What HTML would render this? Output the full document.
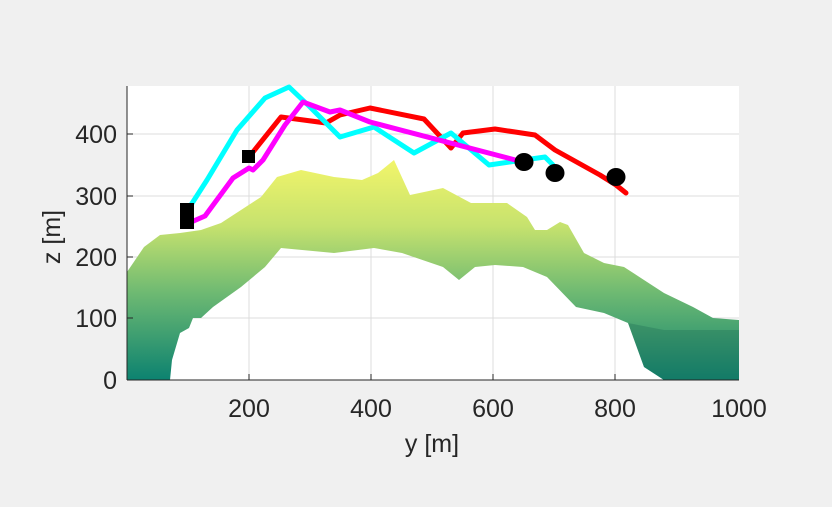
<!DOCTYPE html>
<html><head><style>
html,body{margin:0;padding:0;background:#f0f0f0;}
svg{display:block;font-family:"Liberation Sans",Arial,sans-serif;}
</style></head><body>
<svg width="832" height="507" viewBox="0 0 832 507" xmlns="http://www.w3.org/2000/svg">
<defs>
<linearGradient id="g" gradientUnits="userSpaceOnUse" x1="0" y1="160" x2="0" y2="380">
<stop offset="0" stop-color="#f2f56a"/>
<stop offset="0.3" stop-color="#c6e26e"/>
<stop offset="0.6" stop-color="#6fba72"/>
<stop offset="1" stop-color="#0c8270"/>
</linearGradient>
</defs>
<rect x="0" y="0" width="832" height="507" fill="#f0f0f0"/>
<rect x="127" y="86" width="612" height="294" fill="#fff"/>
<g stroke="#dcdcdc" stroke-width="1">
<line x1="249" y1="86" x2="249" y2="380"/><line x1="371" y1="86" x2="371" y2="380"/>
<line x1="493" y1="86" x2="493" y2="380"/><line x1="615" y1="86" x2="615" y2="380"/>
<line x1="127" y1="134" x2="739" y2="134"/><line x1="127" y1="196" x2="739" y2="196"/>
<line x1="127" y1="257" x2="739" y2="257"/><line x1="127" y1="318" x2="739" y2="318"/>
</g>
<polygon fill="url(#g)" points="127,272 144,247 160,235 180,233 201,230 221,223 241,210 261,197 277,177 301,170 334,177 362,180 378,173 394,160 410,195 443,188 471,203 507,203 527,217 535,230 547,230 560,222 568,225 584,253 604,263 624,267 644,280 664,293 693,307 713,318 739,320 739,380 664,380 644,367 628,323 604,313 576,307 547,277 523,267 495,265 475,267 459,280 443,267 402,253 374,248 334,253 281,248 265,267 241,287 213,307 201,318 193,318 189,328 180,333 172,360 170,380 127,380"/>
<polygon fill="#1f6e55" opacity="0.35" points="628,323 664,330 713,330 739,330 739,380 664,380 644,367"/>
<g fill="none" stroke-width="5" stroke-linejoin="round" stroke-linecap="round">
<polyline stroke="#ff0000" points="249,157 281,117 326,123 340,115 370,108 424,119 451,148 463,133 495,129 535,135 555,150 600,175 616,185 626,193"/>
<polyline stroke="#00ffff" points="189,208 207,180 237,130 265,98 289,87 310,107 340,137 374,127 414,153 451,133 489,165 545,157 553,165"/>
<polyline stroke="#ff00ff" points="189,223 205,216 233,178 249,168 253,170 263,160 285,125 303,102 330,112 340,110 370,122 523,162"/>
</g>
<rect x="180" y="203" width="14" height="26" fill="#000"/>
<rect x="242" y="150" width="13" height="13" fill="#000"/>
<ellipse cx="524" cy="162" rx="9.5" ry="9" fill="#000"/>
<ellipse cx="555" cy="173" rx="9.5" ry="9" fill="#000"/>
<ellipse cx="616" cy="177" rx="9.5" ry="9" fill="#000"/>
<g stroke="#262626" stroke-width="1">
<line x1="127" y1="86" x2="127" y2="380"/><line x1="127" y1="380" x2="739" y2="380"/>
<line x1="249" y1="380" x2="249" y2="374"/><line x1="371" y1="380" x2="371" y2="374"/>
<line x1="493" y1="380" x2="493" y2="374"/><line x1="615" y1="380" x2="615" y2="374"/>
<line x1="127" y1="134" x2="133" y2="134"/><line x1="127" y1="196" x2="133" y2="196"/>
<line x1="127" y1="257" x2="133" y2="257"/><line x1="127" y1="318" x2="133" y2="318"/>
</g>
<g fill="#262626" font-size="25" text-anchor="end">
<text x="117" y="143">400</text><text x="117" y="205">300</text>
<text x="117" y="266">200</text><text x="117" y="327">100</text><text x="117" y="389">0</text>
</g>
<g fill="#262626" font-size="25" text-anchor="middle">
<text x="249" y="417">200</text><text x="371" y="417">400</text>
<text x="493" y="417">600</text><text x="615" y="417">800</text><text x="739" y="417">1000</text>
<text x="432" y="452">y [m]</text>
<text transform="translate(60,237) rotate(-90)">z [m]</text>
</g>
</svg>
</body></html>
